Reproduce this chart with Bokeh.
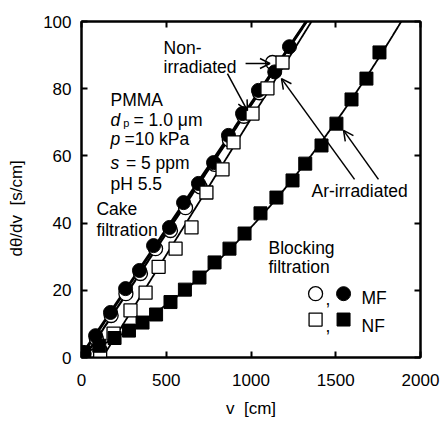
import numpy as np
from bokeh.plotting import figure
from bokeh.models import Range1d, LinearAxis, Label, Arrow, OpenHead, FixedTicker
from bokeh.embed import file_html
from bokeh.resources import INLINE

# ---------------- data ----------------
# MF, Ar-irradiated (filled circles)
mf_ar_v = [12, 83, 171, 260, 342, 425, 519, 602, 690, 779, 867, 950, 1044, 1140, 1227]
mf_ar_y = [1.5, 6.5, 13.4, 20.5, 25.9, 33.3, 38.7, 46.1, 51.8, 58.0, 66.1, 72.6, 79.5, 85.0, 92.5]
# MF, non-irradiated (open circles)
mf_non_v = [15, 88, 175, 262, 348, 437, 525, 614, 700, 785, 872, 958, 1050, 1127]
mf_non_y = [1.2, 5.5, 12.5, 19.0, 25.0, 32.4, 37.8, 44.6, 50.8, 57.5, 64.8, 71.8, 78.8, 87.8]
# NF, non-irradiated (open squares)
nf_non_v = [110, 189, 289, 378, 455, 555, 649, 737, 832, 897, 1009, 1097, 1186]
nf_non_y = [1.2, 7.1, 14.0, 19.3, 27.0, 32.4, 38.7, 49.1, 56.0, 64.0, 72.6, 80.1, 87.8]
# NF, Ar-irradiated (filled squares)
nf_ar_v = [15, 105, 195, 280, 360, 440, 525, 610, 696, 785, 873, 962, 1056, 1150,
           1245, 1320, 1416, 1504, 1593, 1681, 1758]
nf_ar_y = [1.5, 3.5, 5.8, 8.0, 10.4, 12.8, 16.5, 20.2, 23.8, 28.3, 32.4, 36.9, 42.9, 47.6,
           52.7, 57.7, 63.1, 69.6, 76.8, 83.0, 90.8]

x_ticks = [0, 500, 1000, 1500, 2000]
y_ticks = [0, 20, 40, 60, 80, 100]

FONT = "Liberation Sans"
FS = "17.5px"

p = figure(frame_width=339, frame_height=336,
           x_range=Range1d(0, 2000), y_range=Range1d(0, 100),
           min_border_left=81, min_border_right=20, min_border_top=21, min_border_bottom=67,
           output_backend="svg", toolbar_location=None)
p.grid.visible = False
p.outline_line_color = "black"
p.outline_line_width = 2
p.background_fill_color = "white"
p.border_fill_color = "white"

for ax, tk in ((p.xaxis[0], x_ticks), (p.yaxis[0], y_ticks)):
    ax.ticker = FixedTicker(ticks=tk)
    ax.axis_line_width = 2
    ax.major_tick_line_width = 2
    ax.major_tick_in = 6
    ax.major_tick_out = 0
    ax.minor_tick_line_color = None
    ax.major_label_text_font = FONT
    ax.major_label_text_font_size = "17px"
    ax.major_label_text_color = "black"
    ax.axis_label_text_font = FONT
    ax.axis_label_text_font_size = "17px"
    ax.axis_label_text_font_style = "normal"
    ax.axis_label_text_color = "black"
p.xaxis.major_label_standoff = 16
p.yaxis.major_label_standoff = 10
p.xaxis.axis_label = "v\u00a0\u00a0[cm]"
p.xaxis.axis_label_standoff = 10
p.yaxis.axis_label = "dθ/dv\u00a0\u00a0[s/cm]" + "\u00a0" * 8
p.yaxis.axis_label_standoff = 14

for loc, tk in (("above", x_ticks), ("right", y_ticks)):
    ax = LinearAxis(ticker=FixedTicker(ticks=tk), axis_line_width=2, major_tick_line_width=2,
                    major_tick_in=6, major_tick_out=0, minor_tick_line_color=None,
                    major_label_overrides={t: "" for t in tk}, major_label_standoff=0)
    p.add_layout(ax, loc)

# ---------------- fitted lines ----------------
xx = np.linspace(0, 2000, 401)
for vx, vy, w in ((mf_non_v, mf_non_y, 2.2), (mf_ar_v, mf_ar_y, 3), (nf_non_v, nf_non_y, 1.8)):
    k, b = np.polyfit(vx, vy, 1)
    p.line(xx, k * xx + b, line_color="black", line_width=w)
c2 = np.polyfit(nf_ar_v, nf_ar_y, 2)
p.line(xx, np.polyval(c2, xx), line_color="black", line_width=1.8)

# ---------------- markers ----------------
p.scatter(mf_non_v, mf_non_y, marker="circle", size=14, fill_color="white",
          line_color="black", line_width=1.3)
p.scatter(mf_ar_v, mf_ar_y, marker="circle", size=14, fill_color="black",
          line_color="black", line_width=1)
p.scatter(nf_non_v, nf_non_y, marker="square", size=13, fill_color="white",
          line_color="black", line_width=1.3)
p.scatter(nf_ar_v, nf_ar_y, marker="square", size=13, fill_color="black",
          line_color="black", line_width=1)


def lab(x, y, text, style="normal", size=FS):
    p.add_layout(Label(x=x, y=y, text=text, text_font=FONT, text_font_size=size,
                       text_font_style=style, text_color="black",
                       text_align="left", text_baseline="alphabetic"))


# ---------------- annotations ----------------
lab(484, 92.0, "Non-")
lab(484, 86.4, "irradiated")

lab(171, 76.5, "PMMA")
lab(171, 70.8, "d", style="italic")
lab(246, 69.8, "p", size="11px")
lab(307, 70.8, "= 1.0 μm")
lab(171, 64.9, "p", style="italic")
lab(254, 64.9, "=10 kPa")
lab(171, 58.0, "s", style="italic")
lab(262, 58.0, "= 5 ppm")
lab(171, 51.5, "pH 5.5")

lab(88, 44.3, "Cake")
lab(88, 37.8, "filtration")

lab(1357, 49.7, "Ar-irradiated")
lab(1103, 32.7, "Blocking")
lab(1103, 26.8, "filtration")

# legend (manual)
p.scatter([1381], [19.0], marker="circle", size=14, fill_color="white", line_color="black", line_width=1.3)
p.scatter([1546], [19.0], marker="circle", size=14, fill_color="black", line_color="black")
p.scatter([1381], [11.3], marker="square", size=13, fill_color="white", line_color="black", line_width=1.3)
p.scatter([1546], [11.3], marker="square", size=13, fill_color="black", line_color="black")
lab(1440, 17.6, ",")
lab(1440, 9.5, ",")
lab(1652, 17.6, "MF")
lab(1652, 9.5, "NF")

# arrows
for xs, ys, xe, ye in ((968, 87.5, 1112, 87.5),
                       (861, 84.5, 979, 73.5),
                       (1611, 53.0, 1180, 83.0),
                       (1752, 53.0, 1546, 67.6)):
    p.add_layout(Arrow(end=OpenHead(size=10, line_width=1.5, line_color="black"),
                       x_start=xs, y_start=ys, x_end=xe, y_end=ye,
                       line_width=1.5, line_color="black"))

open("out.html", "w").write(file_html(p, INLINE))
